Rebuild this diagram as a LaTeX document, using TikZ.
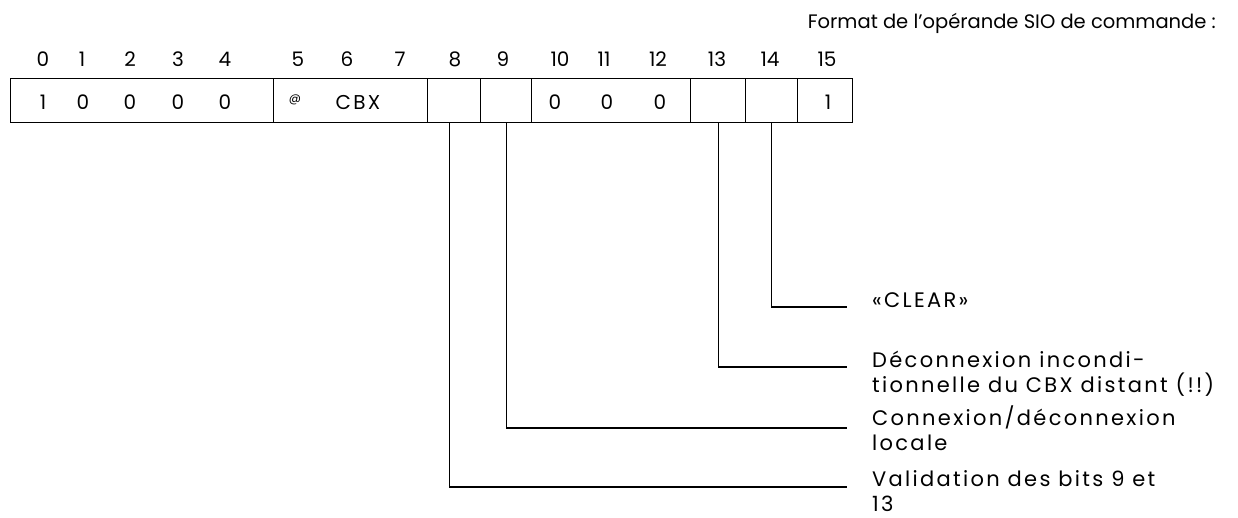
\documentclass[tikz,border=0pt]{standalone}
\usepackage{fontspec}
\setmainfont{Poppins}
\newfontfamily\spacedfont[LetterSpace=11]{Poppins}
% two-line legend, baseline on the first line
\newcommand{\legende}[2]{\vtop{\hbox{#1}\hbox{#2}}}
\tikzset{
  cell/.style={draw,line width=1.3pt,minimum height=44pt,inner sep=0pt,anchor=north west},
  bit/.style={inner sep=0pt,anchor=base},
  note/.style={inner sep=0pt,anchor=base west,font=\spacedfont\fontsize{21}{25.5}\selectfont},
  lead/.style={line width=1.1pt}
}
\begin{document}
\begin{tikzpicture}[x=1pt,y=-1pt,font=\fontsize{20}{25}\selectfont]
\useasboundingbox (0,0) rectangle (1238,518);
\node[inner sep=0pt,anchor=base east,font=\fontsize{19.5}{25}\selectfont] (title) at (1216,29) {Format de l'opérande SIO de commande :};
% bit numbers
\node[bit] (n0) at (43,67) {0};
\node[bit] (n1) at (82,67) {1};
\node[bit] (n2) at (130,67) {2};
\node[bit] (n3) at (178,67) {3};
\node[bit] (n4) at (225,67) {4};
\node[bit] (n5) at (298,67) {5};
\node[bit] (n6) at (347,67) {6};
\node[bit] (n7) at (400,67) {7};
\node[bit] (n8) at (455,67) {8};
\node[bit] (n9) at (503,67) {9};
\node[bit] (n10) at (560,67) {10};
\node[bit] (n11) at (604,67) {11};
\node[bit] (n12) at (658,67) {12};
\node[bit] (n13) at (717,67) {13};
\node[bit] (n14) at (770,67) {14};
\node[bit] (n15) at (827,67) {15};
% fields
\node[cell,minimum width=263pt] (f04) at (10,78) {};
\node[cell,minimum width=154pt] (f57) at (273,78) {};
\node[cell,minimum width=53pt] (f8) at (427,78) {};
\node[cell,minimum width=51pt] (f9) at (480,78) {};
\node[cell,minimum width=159pt] (f1012) at (531,78) {};
\node[cell,minimum width=55pt] (f13) at (690,78) {};
\node[cell,minimum width=52pt] (f14) at (745,78) {};
\node[cell,minimum width=55pt] (f15) at (797,78) {};
% field contents
\node[bit] (v0) at (43,110) {1};
\node[bit] (v1) at (83,110) {0};
\node[bit] (v2) at (130,110) {0};
\node[bit] (v3) at (178,110) {0};
\node[bit] (v4) at (225,110) {0};
\node[bit,font=\fontsize{12}{14}\selectfont] (at) at (295,103) {@};
\node[bit,font=\spacedfont\fontsize{20}{25}\selectfont] (cbx) at (358,110) {CBX};
\node[bit] (v10) at (555,110) {0};
\node[bit] (v11) at (607,110) {0};
\node[bit] (v12) at (660,110) {0};
\node[bit] (v15) at (828,110) {1};
% legends
\node[note] (clear) at (872,308) {«CLEAR»};
\node[note] (deco) at (872,367) {\legende{Déconnexion incondi-}{tionnelle du CBX distant (!!)}};
\node[note] (conn) at (872,425) {\legende{Connexion/déconnexion}{locale}};
\node[note] (valid) at (872,486) {\legende{Validation des bits 9 et}{13}};
\draw[lead] (f14.south) |- ([xshift=-25pt,yshift=1pt]clear.base west);
\draw[lead] (f13.south) |- ([xshift=-25pt]deco.base west);
\draw[lead] (f9.south) |- ([xshift=-25pt,yshift=-3pt]conn.base west);
\draw[lead] ([xshift=-5pt]f8.south) |- ([xshift=-25pt,yshift=-1pt]valid.base west);
\end{tikzpicture}
\end{document}
